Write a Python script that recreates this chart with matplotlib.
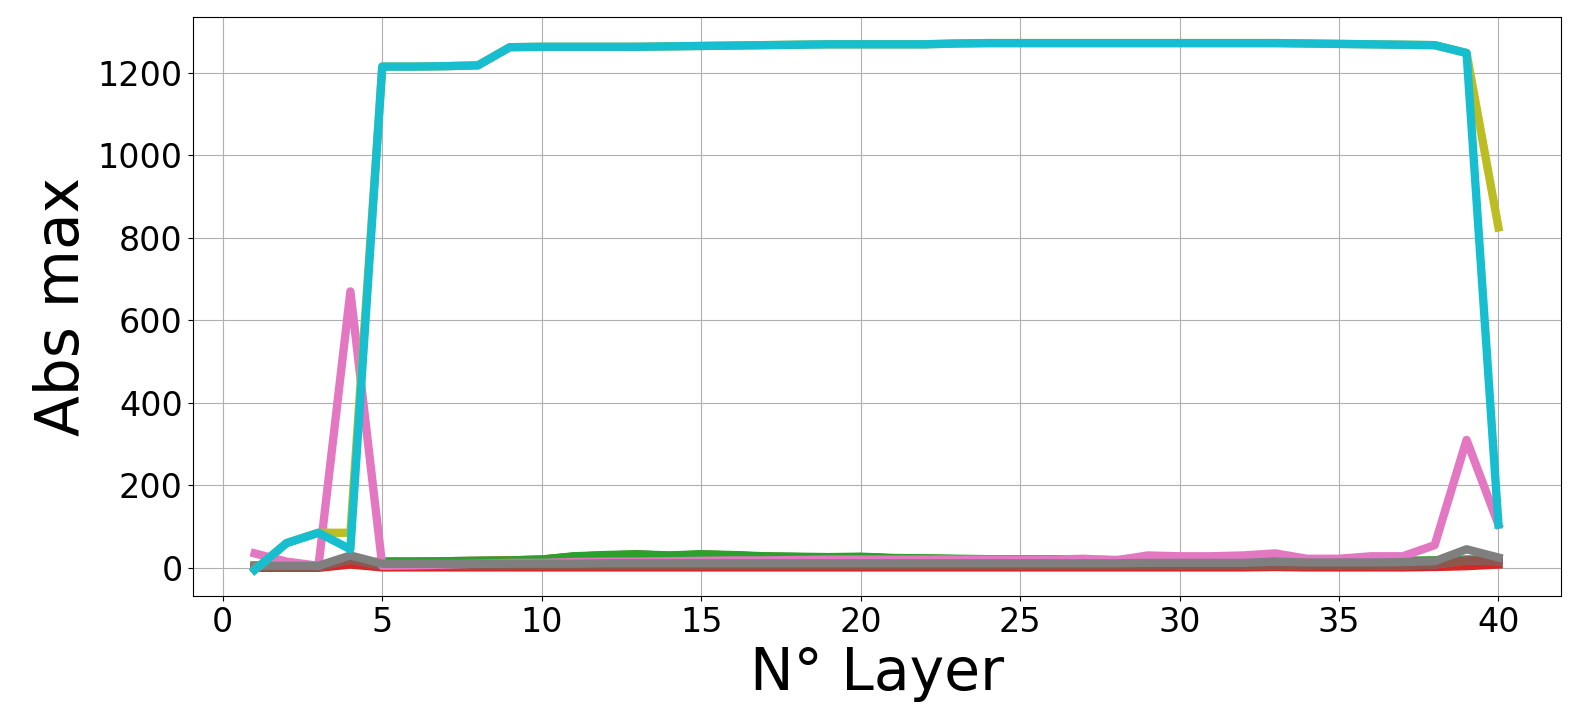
import matplotlib
matplotlib.use("Agg")
import matplotlib.pyplot as plt
import numpy as np

layers = np.arange(1, 41)

# abs max per layer, one list per tensor
blue = [5, 5, 6, 10, 15, 15, 16, 17, 18, 20, 27, 30, 32, 29, 32, 30, 27, 26, 25, 26,
        23, 22, 21, 20, 20, 20, 19, 18, 19, 18, 18, 17, 19, 17, 17, 17, 16, 17, 19, 19]
orange = [5, 5, 6, 10, 15, 15, 16, 17, 18, 20, 27, 30, 32, 29, 32, 30, 27, 26, 25, 26,
          23, 22, 21, 20, 20, 20, 19, 18, 19, 18, 18, 17, 19, 17, 17, 17, 16, 17, 19, 19]
green = [5, 5, 6, 10, 15, 15, 16, 17, 18, 20, 28, 31, 33, 30, 33, 31, 28, 27, 26, 27,
         24, 23, 22, 21, 21, 21, 20, 19, 20, 19, 19, 18, 20, 18, 18, 18, 17, 18, 20, 20]
red = [0, 0, 0, 8, 1, 1, 1, 1, 1, 1, 1, 1, 1, 1, 1, 1, 1, 1, 1, 1,
       1, 1, 1, 1, 1, 1, 1, 1, 1, 1, 1, 1, 2, 1, 1, 1, 1, 2, 4, 8]
purple = [2, 2, 2, 20, 5, 5, 5, 5, 5, 5, 5, 5, 5, 5, 5, 5, 5, 5, 5, 5,
          5, 5, 5, 5, 5, 5, 5, 5, 5, 5, 5, 5, 6, 5, 5, 5, 6, 8, 18, 16]
brown = [2, 2, 2, 20, 5, 5, 5, 5, 5, 5, 5, 5, 5, 5, 5, 5, 5, 5, 5, 5,
         5, 5, 5, 5, 5, 5, 5, 5, 5, 5, 5, 5, 6, 5, 5, 5, 6, 8, 18, 16]
pink = [35, 15, 5, 670, 5, 6, 8, 10, 12, 12, 14, 15, 15, 16, 17, 18, 18, 19, 20, 20,
        20, 20, 20, 20, 20, 20, 22, 18, 30, 28, 28, 30, 35, 22, 22, 28, 28, 55, 310, 105]
gray = [5, 5, 5, 30, 10, 10, 10, 10, 10, 10, 10, 11, 11, 11, 11, 11, 11, 11, 11, 11,
        11, 11, 11, 11, 11, 11, 11, 11, 12, 12, 12, 12, 15, 13, 13, 13, 14, 16, 45, 25]
olive = [-5, 60, 85, 85, 1215, 1215, 1216, 1218, 1262, 1263, 1263, 1263, 1263, 1264, 1265, 1266, 1267, 1268, 1269, 1269,
         1269, 1269, 1271, 1272, 1272, 1272, 1272, 1272, 1272, 1272, 1272, 1272, 1272, 1271, 1270, 1269, 1268, 1267, 1248, 825]
cyan = [-5, 60, 85, 45, 1215, 1215, 1216, 1218, 1262, 1263, 1263, 1263, 1263, 1264, 1265, 1266, 1267, 1268, 1269, 1269,
        1269, 1269, 1271, 1272, 1272, 1272, 1272, 1272, 1272, 1272, 1272, 1272, 1272, 1271, 1270, 1269, 1268, 1267, 1248, 105]

series = [blue, orange, green, red, purple, brown, pink, gray, olive, cyan]

fig = plt.figure(figsize=(15.78, 7.28), dpi=100)
ax = fig.add_axes([0.122, 0.181, 0.867, 0.796])
for s in series:
    ax.plot(layers, s, linewidth=6)

ax.set_xticks(np.arange(0, 41, 5))
ax.set_yticks(np.arange(0, 1201, 200))
ax.tick_params(labelsize=24)
ax.set_xlabel("N° Layer", fontsize=42)
ax.set_ylabel("Abs max", fontsize=43)
ax.grid(True)

fig.savefig("out.png")
